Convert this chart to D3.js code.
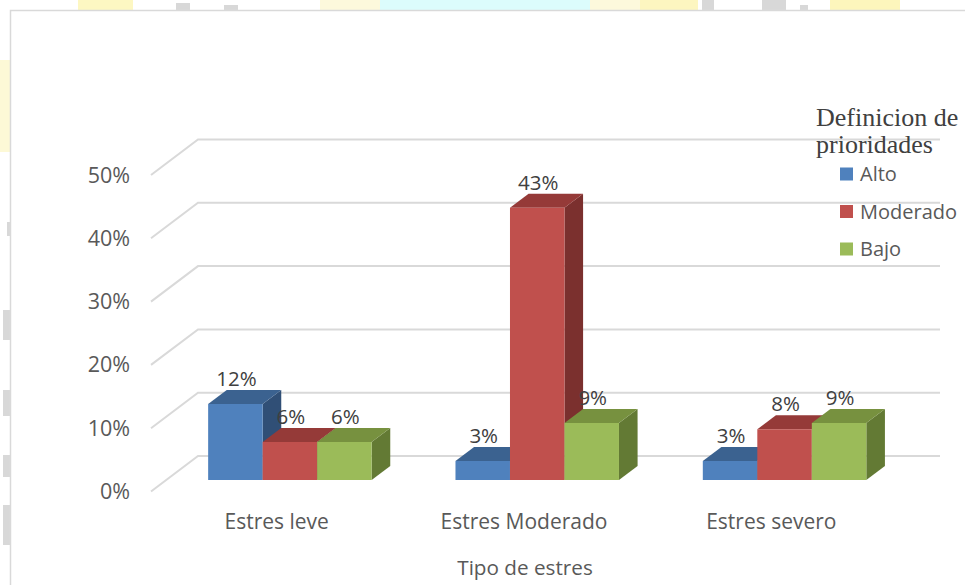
<!DOCTYPE html>
<html><head><meta charset="utf-8">
<script src="https://cdn.jsdelivr.net/npm/d3@7"></script>
<style>body{margin:0;background:#fff}svg{display:block}</style>
</head><body>
<svg id="c" width="965" height="585" font-family="'Open Sans',sans-serif"></svg>
<script>
const categories = ["Estres leve", "Estres Moderado", "Estres severo"];
const seriesNames = ["Alto", "Moderado", "Bajo"];
const alto = [0.12, 0.03, 0.03];
const moderado = [0.06, 0.43, 0.08];
const bajo = [0.06, 0.09, 0.09];
const yTicks = [0, 0.1, 0.2, 0.3, 0.4, 0.5];
const labels = [["12%","3%","3%"],["6%","43%","8%"],["6%","9%","9%"]];
const axisTitle = "Tipo de estres";
const legendTitle = ["Definicion de", "prioridades"];

const series = [alto, moderado, bajo];
const frontCol = ["#4f81bd", "#c0504d", "#9bbb59"];
const topCol = ["#3b6290", "#953a38", "#77913f"];
const sideCol = ["#304f76", "#7b302e", "#637a34"];

const svg = d3.select("#c");

// watermark fragments outside the chart frame
const wm = svg.append("g");
[[78,0,55,10,"#fdf7c2"],[320,0,60,10,"#fdf9dc"],[380,0,210,10,"#dcfcfc"],[590,0,50,10,"#fdf9dc"],
 [640,0,58,10,"#fdf6c0"],[830,0,70,10,"#fdf6bc"],[0,60,10,92,"#fdf9d6"]].forEach(r=>{
  wm.append("rect").attr("x",r[0]).attr("y",r[1]).attr("width",r[2]).attr("height",r[3]).attr("fill",r[4]);
});
[[176,3,14,7],[224,5,14,5],[702,0,12,10],[762,0,24,10],[800,5,8,5],
 [7,222,3,14],[3,310,7,30],[3,390,7,26],[3,455,7,22],[3,505,7,40]].forEach(r=>{
  wm.append("rect").attr("x",r[0]).attr("y",r[1]).attr("width",r[2]).attr("height",r[3]).attr("fill","#d8d8d8");
});

// chart frame
svg.append("rect").attr("x",10.5).attr("y",10.5).attr("width",970).attr("height",590)
  .attr("fill","#fff").attr("stroke","#d9d9d9").attr("stroke-width",1.5);

// 3D projection
const backX0 = 198, backX1 = 940;
const DX = -47, DY = 35.5;
const y = d3.scaleLinear().domain([0, 0.5]).range([456, 139.5]);
const xBand = d3.scaleBand().domain(categories).range([backX0, backX1]).paddingInner(0).paddingOuter(0);
const inner = d3.scaleBand().domain(seriesNames).range([0, 163.5]);
const zFront = 0.676, zBack = 0.28;
const P = (x, v, z) => [x + z*DX, y(v) + z*DY];

// gridlines on back wall and left wall
const grid = svg.append("g");
yTicks.forEach(t => {
  const a = P(backX0, t, 0), b = P(backX0, t, 1), c = P(backX1, t, 0);
  grid.append("path").attr("d", `M${b[0]},${b[1]}L${a[0]},${a[1]}L${c[0]},${c[1]}`)
    .attr("fill","none").attr("stroke","#d9d9d9").attr("stroke-width",2);
  svg.append("text").attr("x", 130).attr("y", b[1]).attr("dy","0.35em").attr("text-anchor","end")
    .attr("font-size",21.5).attr("fill","#595959").text(d3.format(".0%")(t));
});

// bars
const bars = svg.append("g");
categories.forEach((cat, ci) => {
  const g0 = xBand(cat) + (xBand.bandwidth() - 163.5)/2;
  seriesNames.forEach((s, si) => {
    const v = series[si][ci];
    const x0 = g0 + inner(s), x1 = x0 + inner.bandwidth();
    const poly = pts => "M" + pts.map(p => p.join(",")).join("L") + "Z";
    const fbl = P(x0,0,zFront), fbr = P(x1,0,zFront), ftl = P(x0,v,zFront), ftr = P(x1,v,zFront);
    const btl = P(x0,v,zBack), btr = P(x1,v,zBack), bbr = P(x1,0,zBack);
    bars.append("path").attr("d", poly([fbr, ftr, btr, bbr])).attr("fill", sideCol[si]);
    bars.append("path").attr("d", poly([ftl, ftr, btr, btl])).attr("fill", topCol[si]);
    bars.append("path").attr("d", poly([fbl, fbr, ftr, ftl])).attr("fill", frontCol[si]);
    svg.append("text").attr("x", (fbl[0]+fbr[0])/2 + 1).attr("y", btl[1] - 4)
      .attr("text-anchor","middle").attr("font-size",20.5).attr("fill","#404040").text(labels[si][ci]);
  });
  const cx = xBand(cat) + xBand.bandwidth()/2 + DX + 2;
  svg.append("text").attr("x", cx).attr("y", 522).attr("dy","0.35em").attr("text-anchor","middle")
    .attr("font-size",21).attr("fill","#595959").text(cat);
});

svg.append("text").attr("x", 525).attr("y", 568).attr("dy","0.35em").attr("text-anchor","middle")
  .attr("font-size",20.7).attr("fill","#595959").text(axisTitle);

// legend
const lg = svg.append("g");
legendTitle.forEach((t,i) => lg.append("text").attr("x",816).attr("y",126 + i*27)
  .style("font-family","'Liberation Serif','Times New Roman',serif").attr("font-size",26).attr("fill","#404040").text(t));
seriesNames.forEach((s,i) => {
  const cy = 174 + i*37.5;
  lg.append("rect").attr("x",840).attr("y",cy-6.5).attr("width",13).attr("height",13).attr("fill",frontCol[i]);
  lg.append("text").attr("x",860).attr("y",cy).attr("dy","0.35em").attr("font-size",20)
    .attr("fill","#595959").text(s);
});
</script>
</body></html>
